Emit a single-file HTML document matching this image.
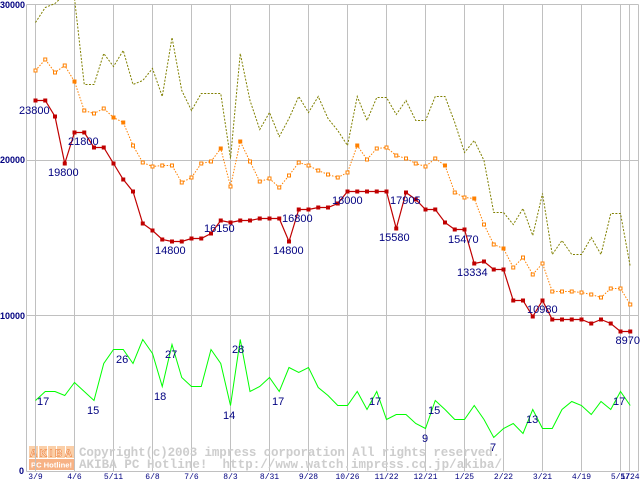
<!DOCTYPE html>
<html>
<head>
<meta charset="utf-8">
<style>
html,body{margin:0;padding:0;background:#fff;}
body{width:640px;height:480px;overflow:hidden;}
svg{display:block;}
.lbl{font-family:"Liberation Sans",sans-serif;font-size:11px;fill:#000080;}
.ytk{font-family:"Liberation Sans",sans-serif;font-size:9px;font-weight:bold;fill:#000080;}
.xtk{font-family:"Liberation Mono",monospace;font-size:8px;fill:#000080;}
.wm{font-family:"Liberation Mono",monospace;font-size:12.5px;font-weight:bold;fill:#cdcdcd;}
</style>
</head>
<body>
<svg width="640" height="480" viewBox="0 0 640 480" xmlns="http://www.w3.org/2000/svg">
<rect width="640" height="480" fill="#fff"/>

<!-- watermark logo -->
<rect x="29" y="446" width="45" height="12" fill="#fbcfa8"/>
<g stroke="#fff" stroke-width="1">
<line x1="38.5" y1="446" x2="38.5" y2="458"/>
<line x1="47.5" y1="446" x2="47.5" y2="458"/>
<line x1="56.5" y1="446" x2="56.5" y2="458"/>
<line x1="65.5" y1="446" x2="65.5" y2="458"/>
</g>
<text x="30" y="456.5" font-family="Liberation Sans,sans-serif" font-weight="bold" font-size="10" fill="#fff" stroke="#f09050" stroke-width="0.7" textLength="42" lengthAdjust="spacing">AKIBA</text>
<rect x="29" y="459" width="45" height="11" fill="#f7b285"/>
<text x="31" y="467.5" font-family="Liberation Sans,sans-serif" font-weight="bold" font-size="7.5" fill="#fff" textLength="41" lengthAdjust="spacingAndGlyphs">PC Hotline!</text>

<g transform="translate(0.5,0.5)">
<!-- grid -->
<g stroke="#c0c0c0" stroke-width="1" fill="none">
<line x1="26" y1="4" x2="638" y2="4"/>
<line x1="26" y1="160" x2="638" y2="160"/>
<line x1="26" y1="315" x2="638" y2="315"/>
<line x1="26" y1="471" x2="638" y2="471"/>
<line x1="26" y1="4" x2="26" y2="471"/>
<line x1="638" y1="4" x2="638" y2="471"/>
<line x1="35" y1="4" x2="35" y2="471"/>
<line x1="74" y1="4" x2="74" y2="471"/>
<line x1="113" y1="4" x2="113" y2="471"/>
<line x1="152" y1="4" x2="152" y2="471"/>
<line x1="191" y1="4" x2="191" y2="471"/>
<line x1="230" y1="4" x2="230" y2="471"/>
<line x1="269" y1="4" x2="269" y2="471"/>
<line x1="308" y1="4" x2="308" y2="471"/>
<line x1="347" y1="4" x2="347" y2="471"/>
<line x1="386" y1="4" x2="386" y2="471"/>
<line x1="425" y1="4" x2="425" y2="471"/>
<line x1="464" y1="4" x2="464" y2="471"/>
<line x1="503" y1="4" x2="503" y2="471"/>
<line x1="542" y1="4" x2="542" y2="471"/>
<line x1="581" y1="4" x2="581" y2="471"/>
<line x1="620" y1="4" x2="620" y2="471"/>
<line x1="629" y1="4" x2="629" y2="471"/>
</g>
</g>

<!-- watermark text -->
<text class="wm" x="79" y="456" textLength="421" lengthAdjust="spacing">Copyright(c)2003 impress corporation All rights reserved.</text>
<text class="wm" x="79" y="468" textLength="423" lengthAdjust="spacing" xml:space="preserve">AKIBA PC Hotline!  http://www.watch.impress.co.jp/akiba/</text>

<g transform="translate(0.5,0.5)">
<!-- olive dotted (max) -->
<polyline fill="none" stroke="#808000" stroke-width="1" stroke-dasharray="2,1.5" points="35,22 44.75,7 54.5,3 64.25,-6 74,-2 83.75,84 93.5,84 103.25,53 113,66 122.75,50 132.5,84 142.25,80 152,68 161.75,96 171.5,37 181.25,90 191,110 200.75,93 210.5,93 220.25,93 230,158 239.75,53 249.5,100 259.25,129 269,112 278.75,136 288.5,118 298.25,96 308,112 317.75,96 327.5,118 337.25,130 347,145 356.75,96 366.5,120 376.25,97 386,97 395.75,114 405.5,100 415.25,120 425,120 434.75,96 444.5,96 454.25,122 464,152 473.75,140 483.5,160 493.25,212 503,212 512.75,224 522.5,208 532.25,235 542,193 551.75,254 561.5,240 571.25,254 581,254 590.75,237 600.5,254 610.25,213 620,213 629.75,266"/>

<!-- orange dotted (avg) -->
<polyline fill="none" stroke="#ff8000" stroke-width="1" stroke-dasharray="1.5,1.5" points="35,70 44.75,59 54.5,72 64.25,65 74,81 83.75,110 93.5,113 103.25,108 113,117 122.75,122 132.5,145 142.25,162 152,166 161.75,165 171.5,165 181.25,182 191,177 200.75,163 210.5,161 220.25,148 230,186 239.75,141 249.5,161 259.25,181 269,178 278.75,187 288.5,175 298.25,162 308,165 317.75,170 327.5,174 337.25,177 347,172 356.75,145 366.5,159 376.25,148 386,147 395.75,155 405.5,158 415.25,163 425,166 434.75,158 444.5,165 454.25,192 464,197 473.75,198 483.5,224 493.25,244 503,248 512.75,267 522.5,257 532.25,274 542,263 551.75,291 561.5,291 571.25,291 581,292 590.75,294 600.5,297 610.25,288 620,288 629.75,304"/>
<g fill="#fff" stroke="#ff8000" stroke-width="1">
<rect x="33.5" y="68.5" width="3" height="3"/>
<rect x="43.25" y="57.5" width="3" height="3"/>
<rect x="53" y="70.5" width="3" height="3"/>
<rect x="62.75" y="63.5" width="3" height="3"/>
<rect x="82.25" y="108.5" width="3" height="3"/>
<rect x="92" y="111.5" width="3" height="3"/>
<rect x="101.75" y="106.5" width="3" height="3"/>
<rect x="131" y="143.5" width="3" height="3"/>
<rect x="140.75" y="160.5" width="3" height="3"/>
<rect x="150.5" y="164.5" width="3" height="3"/>
<rect x="160.25" y="163.5" width="3" height="3"/>
<rect x="170" y="163.5" width="3" height="3"/>
<rect x="179.75" y="180.5" width="3" height="3"/>
<rect x="189.5" y="175.5" width="3" height="3"/>
<rect x="199.25" y="161.5" width="3" height="3"/>
<rect x="209" y="159.5" width="3" height="3"/>
<rect x="228.5" y="184.5" width="3" height="3"/>
<rect x="248" y="159.5" width="3" height="3"/>
<rect x="257.75" y="179.5" width="3" height="3"/>
<rect x="267.5" y="176.5" width="3" height="3"/>
<rect x="277.25" y="185.5" width="3" height="3"/>
<rect x="287" y="173.5" width="3" height="3"/>
<rect x="296.75" y="160.5" width="3" height="3"/>
<rect x="306.5" y="163.5" width="3" height="3"/>
<rect x="316.25" y="168.5" width="3" height="3"/>
<rect x="326" y="172.5" width="3" height="3"/>
<rect x="335.75" y="175.5" width="3" height="3"/>
<rect x="345.5" y="170.5" width="3" height="3"/>
<rect x="365" y="157.5" width="3" height="3"/>
<rect x="374.75" y="146.5" width="3" height="3"/>
<rect x="384.5" y="145.5" width="3" height="3"/>
<rect x="394.25" y="153.5" width="3" height="3"/>
<rect x="404" y="156.5" width="3" height="3"/>
<rect x="413.75" y="161.5" width="3" height="3"/>
<rect x="423.5" y="164.5" width="3" height="3"/>
<rect x="433.25" y="156.5" width="3" height="3"/>
<rect x="452.75" y="190.5" width="3" height="3"/>
<rect x="462.5" y="195.5" width="3" height="3"/>
<rect x="482" y="222.5" width="3" height="3"/>
<rect x="491.75" y="242.5" width="3" height="3"/>
<rect x="511.25" y="265.5" width="3" height="3"/>
<rect x="521" y="255.5" width="3" height="3"/>
<rect x="530.75" y="272.5" width="3" height="3"/>
<rect x="540.5" y="261.5" width="3" height="3"/>
<rect x="550.25" y="289.5" width="3" height="3"/>
<rect x="560" y="289.5" width="3" height="3"/>
<rect x="569.75" y="289.5" width="3" height="3"/>
<rect x="579.5" y="290.5" width="3" height="3"/>
<rect x="589.25" y="292.5" width="3" height="3"/>
<rect x="599" y="295.5" width="3" height="3"/>
<rect x="608.75" y="286.5" width="3" height="3"/>
<rect x="618.5" y="286.5" width="3" height="3"/>
<rect x="628.25" y="302.5" width="3" height="3"/>
</g>
<g fill="#ff8000">
<rect x="72" y="79" width="4" height="4"/>
<rect x="111" y="115" width="4" height="4"/>
<rect x="120.75" y="120" width="4" height="4"/>
<rect x="218.25" y="146" width="4" height="4"/>
<rect x="237.75" y="139" width="4" height="4"/>
<rect x="354.75" y="143" width="4" height="4"/>
<rect x="442.5" y="163" width="4" height="4"/>
<rect x="471.75" y="196" width="4" height="4"/>
<rect x="501" y="246" width="4" height="4"/>
</g>

<!-- red solid (min) -->
<polyline fill="none" stroke="#c00000" stroke-width="1.2" points="35,100 44.75,100 54.5,116 64.25,163 74,132 83.75,132 93.5,147 103.25,147 113,163 122.75,179 132.5,191 142.25,223 152,230 161.75,239 171.5,241 181.25,241 191,238 200.75,238 210.5,233 220.25,220 230,222 239.75,220 249.5,220 259.25,218 269,218 278.75,218 288.5,241 298.25,209 308,209 317.75,207 327.5,207 337.25,203 347,191 356.75,191 366.5,191 376.25,191 386,191 395.75,228 405.5,192 415.25,199 425,209 434.75,209 444.5,222 454.25,229 464,229 473.75,263 483.5,261 493.25,269 503,269 512.75,300 522.5,300 532.25,316 542,300 551.75,319 561.5,319 571.25,319 581,319 590.75,323 600.5,319 610.25,323 620,331 629.75,331"/>
<g fill="#c00000">
<rect x="33" y="98" width="4" height="4"/><rect x="42.75" y="98" width="4" height="4"/><rect x="52.5" y="114" width="4" height="4"/><rect x="62.25" y="161" width="4" height="4"/><rect x="72" y="130" width="4" height="4"/><rect x="81.75" y="130" width="4" height="4"/><rect x="91.5" y="145" width="4" height="4"/><rect x="101.25" y="145" width="4" height="4"/><rect x="111" y="161" width="4" height="4"/><rect x="120.75" y="177" width="4" height="4"/><rect x="130.5" y="189" width="4" height="4"/><rect x="140.25" y="221" width="4" height="4"/><rect x="150" y="228" width="4" height="4"/><rect x="159.75" y="237" width="4" height="4"/><rect x="169.5" y="239" width="4" height="4"/><rect x="179.25" y="239" width="4" height="4"/><rect x="189" y="236" width="4" height="4"/><rect x="198.75" y="236" width="4" height="4"/><rect x="208.5" y="231" width="4" height="4"/><rect x="218.25" y="218" width="4" height="4"/><rect x="228" y="220" width="4" height="4"/><rect x="237.75" y="218" width="4" height="4"/><rect x="247.5" y="218" width="4" height="4"/><rect x="257.25" y="216" width="4" height="4"/><rect x="267" y="216" width="4" height="4"/><rect x="276.75" y="216" width="4" height="4"/><rect x="286.5" y="239" width="4" height="4"/><rect x="296.25" y="207" width="4" height="4"/><rect x="306" y="207" width="4" height="4"/><rect x="315.75" y="205" width="4" height="4"/><rect x="325.5" y="205" width="4" height="4"/><rect x="335.25" y="201" width="4" height="4"/><rect x="345" y="189" width="4" height="4"/><rect x="354.75" y="189" width="4" height="4"/><rect x="364.5" y="189" width="4" height="4"/><rect x="374.25" y="189" width="4" height="4"/><rect x="384" y="189" width="4" height="4"/><rect x="393.75" y="226" width="4" height="4"/><rect x="403.5" y="190" width="4" height="4"/><rect x="413.25" y="197" width="4" height="4"/><rect x="423" y="207" width="4" height="4"/><rect x="432.75" y="207" width="4" height="4"/><rect x="442.5" y="220" width="4" height="4"/><rect x="452.25" y="227" width="4" height="4"/><rect x="462" y="227" width="4" height="4"/><rect x="471.75" y="261" width="4" height="4"/><rect x="481.5" y="259" width="4" height="4"/><rect x="491.25" y="267" width="4" height="4"/><rect x="501" y="267" width="4" height="4"/><rect x="510.75" y="298" width="4" height="4"/><rect x="520.5" y="298" width="4" height="4"/><rect x="530.25" y="314" width="4" height="4"/><rect x="540" y="298" width="4" height="4"/><rect x="549.75" y="317" width="4" height="4"/><rect x="559.5" y="317" width="4" height="4"/><rect x="569.25" y="317" width="4" height="4"/><rect x="579" y="317" width="4" height="4"/><rect x="588.75" y="321" width="4" height="4"/><rect x="598.5" y="317" width="4" height="4"/><rect x="608.25" y="321" width="4" height="4"/><rect x="618" y="329" width="4" height="4"/><rect x="627.75" y="329" width="4" height="4"/>
</g>

<!-- green solid (count) -->
<polyline fill="none" stroke="#00ff00" stroke-width="1" points="35,400 44.75,391 54.5,391 64.25,395 74,382 83.75,391 93.5,400 103.25,363 113,349 122.75,349 132.5,363 142.25,339 152,353 161.75,386 171.5,344 181.25,377 191,386 200.75,386 210.5,349 220.25,363 230,405 239.75,339 249.5,391 259.25,386 269,377 278.75,391 288.5,367 298.25,372 308,367 317.75,387 327.5,395 337.25,405 347,405 356.75,391 366.5,409 376.25,391 386,419 395.75,414 405.5,414 415.25,423 425,428 434.75,400 444.5,409 454.25,419 464,419 473.75,405 483.5,419 493.25,437 503,428 512.75,423 522.5,433 532.25,409 542,428 551.75,428 561.5,409 571.25,401 581,405 590.75,414 600.5,401 610.25,409 620,391 629.75,405"/>
</g>

<!-- value labels -->
<g class="lbl">
<text x="19" y="114">23800</text>
<text x="68" y="145">21800</text>
<text x="48" y="176">19800</text>
<text x="155" y="254">14800</text>
<text x="204" y="232">16150</text>
<text x="273" y="254">14800</text>
<text x="282" y="222">16800</text>
<text x="332" y="204">18000</text>
<text x="390" y="204">17905</text>
<text x="379" y="241">15580</text>
<text x="448" y="243">15470</text>
<text x="457" y="276">13334</text>
<text x="527" y="313">10980</text>
<text x="615.5" y="344">8970</text>
<text x="37" y="405">17</text>
<text x="87" y="414">15</text>
<text x="116" y="363">26</text>
<text x="165" y="358">27</text>
<text x="154" y="400">18</text>
<text x="223" y="419">14</text>
<text x="232" y="353">28</text>
<text x="272" y="405">17</text>
<text x="369" y="405">17</text>
<text x="422" y="442">9</text>
<text x="428" y="414">15</text>
<text x="490" y="451">7</text>
<text x="526" y="423">13</text>
<text x="613" y="405">17</text>
</g>

<!-- y ticks -->
<g class="ytk">
<text x="0" y="8">30000</text>
<text x="0" y="163">20000</text>
<text x="0" y="319">10000</text>
<text x="19" y="474">0</text>
</g>

<!-- x ticks -->
<g class="xtk" text-anchor="middle">
<text x="35.5" y="479">3/9</text>
<text x="74.5" y="479">4/6</text>
<text x="113.5" y="479">5/11</text>
<text x="152.5" y="479">6/8</text>
<text x="191.5" y="479">7/6</text>
<text x="230.5" y="479">8/3</text>
<text x="269.5" y="479">8/31</text>
<text x="308.5" y="479">9/28</text>
<text x="347.5" y="479">10/26</text>
<text x="386.5" y="479">11/22</text>
<text x="425.5" y="479">12/21</text>
<text x="464.5" y="479">1/25</text>
<text x="503.5" y="479">2/22</text>
<text x="542.5" y="479">3/21</text>
<text x="581.5" y="479">4/19</text>
<text x="620.5" y="479">5/17</text>
<text x="630" y="479">5/24</text>
</g>
</svg>
</body>
</html>
